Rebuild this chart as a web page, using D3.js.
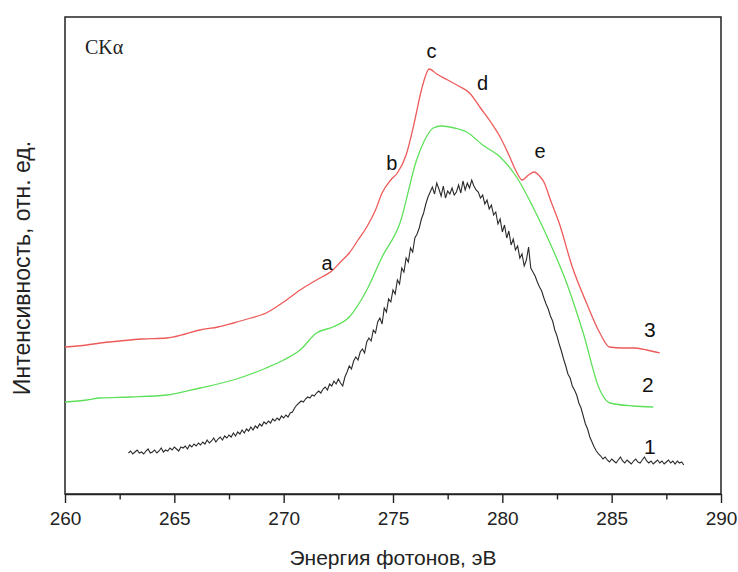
<!DOCTYPE html>
<html><head><meta charset="utf-8">
<script src="https://cdn.jsdelivr.net/npm/d3@7"></script>
<style>body{margin:0;background:#fff}svg{display:block}</style>
</head><body>
<script>
// Energies (eV) and intensities (arb. units)
const series3 = [[260,143],[261,145],[261.6,147],[262.5,149],[263.5,151],[264.65,152],[265.5,156],[266.17,160],[267,163],[267.7,167],[268.5,172],[269.2,177],[270,188],[270.75,200],[271.5,210],[272.25,220],[272.6,228],[273,237],[273.4,250],[273.8,263],[274.2,280],[274.5,297],[274.9,310],[275.2,317],[275.6,335],[276,370],[276.3,400],[276.66,421],[277,416],[277.5,410],[278,404],[278.5,397],[279,382],[279.5,367],[279.9,353],[280.3,335],[280.65,318],[280.9,310],[281.2,315],[281.45,318],[281.7,314],[281.9,308],[282.2,290],[282.6,267],[283.2,223],[283.85,187],[284.46,157],[284.9,143],[285.5,142],[286,142],[286.6,140],[287.2,137]];
const series2 = [[260,88],[261,90],[261.6,92],[263,93],[264.65,95],[266.17,102],[267.7,110],[269.2,122],[270,130],[270.75,140],[271.5,157],[272.25,163],[273,173],[273.8,200],[274.5,233],[275.32,267],[276.08,330],[276.5,352],[276.84,362],[277.2,364],[277.6,363],[278,361],[278.37,358],[279.1,345],[279.9,333],[280.65,313],[281.4,283],[282.18,247],[282.94,207],[283.7,157],[284.46,100],[284.92,87],[285.97,84],[286.9,83]];
const series1 = [[262.9,37],[263,39],[263.1,36],[263.2,38],[263.3,40],[263.4,37],[263.5,38],[263.6,36],[263.7,39],[263.8,41],[263.9,37],[264,38],[264.1,40],[264.2,37],[264.3,39],[264.4,42],[264.5,38],[264.6,40],[264.7,39],[264.8,42],[264.9,40],[265,43],[265.1,41],[265.2,39],[265.3,43],[265.4,42],[265.5,44],[265.6,41],[265.7,45],[265.8,43],[265.9,46],[266,44],[266.1,47],[266.2,45],[266.3,48],[266.4,46],[266.5,50],[266.6,47],[266.7,49],[266.8,52],[266.9,48],[267,51],[267.1,53],[267.2,50],[267.3,54],[267.4,52],[267.5,55],[267.6,53],[267.7,57],[267.8,54],[267.9,58],[268,56],[268.1,60],[268.2,57],[268.3,61],[268.4,59],[268.5,63],[268.6,60],[268.7,64],[268.8,62],[268.9,66],[269,64],[269.1,68],[269.2,66],[269.3,69],[269.4,67],[269.5,71],[269.6,69],[269.7,72],[269.8,70],[269.9,74],[270,72],[270.1,75],[270.2,73],[270.3,77],[270.4,78],[270.5,82],[270.6,85],[270.7,87],[270.8,89],[270.9,88],[271,91],[271.1,93],[271.2,92],[271.3,95],[271.4,94],[271.5,97],[271.6,99],[271.7,97],[271.8,101],[271.9,103],[272,100],[272.1,106],[272.2,104],[272.3,109],[272.4,106],[272.5,111],[272.6,107],[272.7,104],[272.8,113],[272.9,118],[273,124],[273.1,121],[273.2,129],[273.3,133],[273.4,130],[273.5,138],[273.6,141],[273.7,137],[273.8,148],[273.9,152],[274,149],[274.1,160],[274.2,157],[274.3,168],[274.4,172],[274.5,166],[274.6,182],[274.7,178],[274.8,191],[274.9,188],[275,200],[275.1,196],[275.2,210],[275.3,206],[275.4,222],[275.5,218],[275.6,232],[275.7,228],[275.8,242],[275.9,238],[276,252],[276.1,256],[276.2,262],[276.3,271],[276.4,277],[276.5,286],[276.6,293],[276.7,298],[276.8,303],[276.9,296],[277,307],[277.1,301],[277.2,294],[277.3,304],[277.4,292],[277.5,299],[277.6,296],[277.7,302],[277.8,295],[277.9,298],[278,305],[278.1,297],[278.2,309],[278.3,300],[278.4,307],[278.5,302],[278.6,310],[278.7,304],[278.8,300],[278.9,298],[279,292],[279.1,295],[279.2,286],[279.3,290],[279.4,281],[279.5,285],[279.6,275],[279.7,278],[279.8,266],[279.9,271],[280,258],[280.1,265],[280.2,252],[280.3,259],[280.4,245],[280.5,251],[280.6,240],[280.7,244],[280.8,232],[280.9,236],[281,224],[281.1,230],[281.2,243],[281.3,222],[281.4,218],[281.5,214],[281.6,208],[281.7,203],[281.8,199],[281.9,192],[282,186],[282.1,181],[282.2,174],[282.3,169],[282.4,160],[282.5,154],[282.6,146],[282.7,139],[282.8,131],[282.9,124],[283,116],[283.1,112],[283.2,104],[283.3,100],[283.4,95],[283.5,87],[283.6,82],[283.7,74],[283.8,66],[283.9,61],[284,53],[284.1,48],[284.2,43],[284.3,39],[284.4,36],[284.5,34],[284.6,31],[284.7,33],[284.8,30],[284.9,28],[285,31],[285.1,29],[285.2,27],[285.3,30],[285.4,33],[285.5,29],[285.6,27],[285.7,30],[285.8,28],[285.9,26],[286,29],[286.1,31],[286.2,28],[286.3,27],[286.4,30],[286.5,33],[286.6,29],[286.7,27],[286.8,29],[286.9,26],[287,28],[287.1,30],[287.2,27],[287.3,29],[287.4,26],[287.5,28],[287.6,30],[287.7,27],[287.8,29],[287.9,26],[288,29],[288.1,27],[288.2,28],[288.3,25]];
const majorTicks = [260,265,270,275,280,285,290];
const minorTicks = [262.5,267.5,272.5,277.5,282.5,287.5];
const peakLabels = [["a",271.98,220],["b",274.94,320],["c",276.76,432],["d",279.1,400],["e",281.72,332]];
const curveLabels = [["3",286.75,153],["2",286.66,98],["1",286.75,36]];

const W=738,H=572, L=65,R=721,T=17,B=494;
const svg=d3.select("body").append("svg").attr("width",W).attr("height",H);
const x=d3.scaleLinear().domain([260,290]).range([L,R]);
const y=d3.scaleLinear().domain([-4,473]).range([B,T]);

// frame
svg.append("rect").attr("x",L).attr("y",T).attr("width",R-L).attr("height",B-T)
  .attr("fill","none").attr("stroke","#222").attr("stroke-width",1.5);

const f="Liberation Sans, Arial, sans-serif";
const ax=svg.append("g").attr("transform",`translate(0,${B})`)
  .call(d3.axisBottom(x).tickValues(majorTicks).tickFormat(d3.format("d")).tickSize(9).tickSizeOuter(0));
ax.select(".domain").attr("stroke","#222").attr("stroke-width",1.5);
ax.selectAll(".tick line").attr("stroke","#222").attr("stroke-width",1.4);
ax.selectAll(".tick text").attr("font-family",f).attr("font-size",19).attr("fill","#222").attr("y",31).attr("dy",0);
const axm=svg.append("g").attr("transform",`translate(0,${B})`)
  .call(d3.axisBottom(x).tickValues(minorTicks).tickFormat("").tickSize(5.5).tickSizeOuter(0));
axm.select(".domain").remove();
axm.selectAll(".tick line").attr("stroke","#222").attr("stroke-width",1.4);

const line=d3.line().x(d=>x(d[0])).y(d=>y(d[1]));
const smooth=d3.line().x(d=>x(d[0])).y(d=>y(d[1])).curve(d3.curveMonotoneX);
svg.append("path").datum(series1).attr("d",line).attr("fill","none").attr("stroke","#2a2a2a").attr("stroke-width",1.1);
svg.append("path").datum(series2).attr("d",smooth).attr("fill","none").attr("stroke","#5ee05a").attr("stroke-width",1.3);
svg.append("path").datum(series3).attr("d",smooth).attr("fill","none").attr("stroke","#ee5a5a").attr("stroke-width",1.3);

svg.selectAll("text.pl").data(peakLabels).enter().append("text")
  .attr("x",d=>x(d[1])).attr("y",d=>y(d[2])).attr("text-anchor","middle")
  .attr("font-family",f).attr("font-size",20).attr("fill","#111").text(d=>d[0]);
svg.selectAll("text.cl").data(curveLabels).enter().append("text")
  .attr("x",d=>x(d[1])).attr("y",d=>y(d[2])).attr("text-anchor","middle")
  .attr("font-family",f).attr("font-size",21).attr("fill","#111").text(d=>d[0]);

svg.append("text").attr("x",85).attr("y",54).attr("font-family","Liberation Serif, Times New Roman, serif")
  .attr("font-size",20).attr("fill","#222").text("CKα");

svg.append("text").attr("x",(L+R)/2).attr("y",565).attr("text-anchor","middle")
  .attr("font-family",f).attr("font-size",21).attr("fill","#222").text("Энергия фотонов, эВ");
svg.append("text").attr("transform",`translate(30,268) rotate(-90)`).attr("text-anchor","middle")
  .attr("font-family",f).attr("font-size",23).attr("fill","#222").text("Интенсивность, отн. ед.");
</script>
</body></html>
